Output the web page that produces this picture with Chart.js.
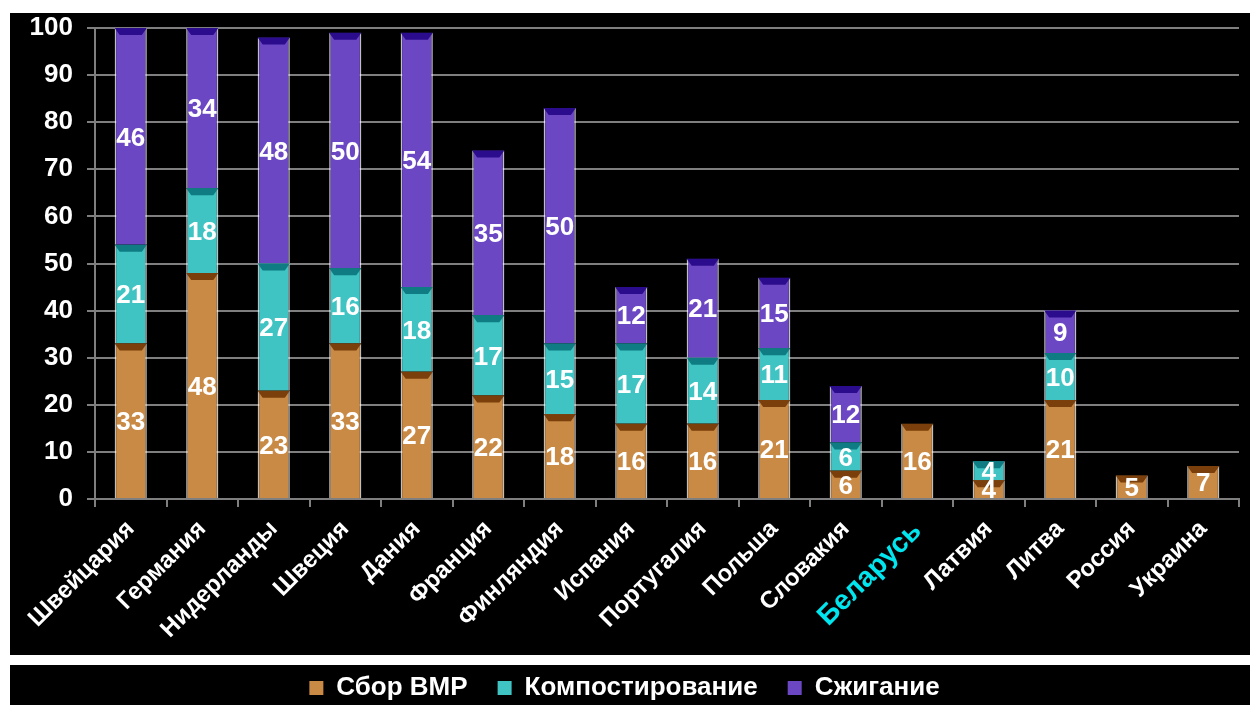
<!DOCTYPE html>
<html lang="ru">
  <head>
    <meta charset="UTF-8" />
    <title>Переработка ТКО</title>
    <style>
      body { margin: 0; background: #fff; }
      #wrap { position: absolute; left: 10px; top: 13px; width: 1240px; height: 692px; }
    </style>
  </head>
  <body>
    <div id="wrap">
      <canvas id="chart" width="1240" height="692"></canvas>
    </div>

    <script src="https://cdn.jsdelivr.net/npm/chart.js"></script>
    <script>
      // данные
      var countries = ["Швейцария", "Германия", "Нидерланды", "Швеция", "Дания", "Франция", "Финляндия",
        "Испания", "Португалия", "Польша", "Словакия", "Беларусь", "Латвия", "Литва", "Россия", "Украина"];
      var sbor = [33, 48, 23, 33, 27, 22, 18, 16, 16, 21, 6, 16, 4, 21, 5, 7];
      var kompost = [21, 18, 27, 16, 18, 17, 15, 17, 14, 11, 6, null, 4, 10, null, null];
      var szhig = [46, 34, 48, 50, 54, 35, 50, 12, 21, 15, 12, null, null, 9, null, null];
      var seriesNames = ["Сбор ВМР", "Компостирование", "Сжигание"];
      var yTicks = [0, 10, 20, 30, 40, 50, 60, 70, 80, 90, 100];

      var fills = ["#c98a45", "#3fc3c3", "#6b47c4"];
      var bevels = ["#7a3f0a", "#0f7c84", "#2b0c8c"];
      var highlight = "Беларусь";
      var FONT = "'Liberation Sans', Arial, sans-serif";

      var background = {
        id: "background",
        beforeDraw(chart) {
          var ctx = chart.ctx;
          ctx.save();
          ctx.fillStyle = "#000";
          ctx.fillRect(0, 0, chart.width, chart.height);
          ctx.fillStyle = "#fff";
          ctx.fillRect(0, 642, chart.width, 10);
          ctx.restore();
        }
      };

      var segLabels = {
        id: "segLabels",
        afterDatasetsDraw(chart) {
          var ctx = chart.ctx;
          ctx.save();
          chart.data.datasets.forEach(function (ds, i) {
            chart.getDatasetMeta(i).data.forEach(function (bar, j) {
              if (ds.data[j] == null) return;
              var half = bar.width / 2;
              ctx.fillStyle = bevels[i];
              ctx.beginPath();
              ctx.moveTo(bar.x - half, bar.y);
              ctx.lineTo(bar.x + half, bar.y);
              ctx.lineTo(bar.x + half - 5, bar.y + 7);
              ctx.lineTo(bar.x - half + 5, bar.y + 7);
              ctx.closePath();
              ctx.fill();
            });
          });
          ctx.fillStyle = "#fff";
          ctx.font = "bold 26px " + FONT;
          ctx.textAlign = "center";
          ctx.textBaseline = "middle";
          chart.data.datasets.forEach(function (ds, i) {
            chart.getDatasetMeta(i).data.forEach(function (bar, j) {
              if (ds.data[j] == null) return;
              ctx.fillText(String(ds.data[j]), bar.x, (bar.y + bar.base) / 2 + 2);
            });
          });
          ctx.restore();
        }
      };

      function makeSet(idx, values) {
        return {
          label: seriesNames[idx],
          data: values,
          backgroundColor: fills[idx],
          borderColor: "rgba(255,255,255,0.75)",
          borderWidth: { left: 1.5, right: 1.5, top: 0, bottom: 0 },
          borderSkipped: false,
          barPercentage: 0.45,
          categoryPercentage: 1.0
        };
      }

      var chart = new Chart(document.getElementById("chart").getContext("2d"), {
        type: "bar",
        data: {
          labels: countries,
          datasets: [makeSet(0, sbor), makeSet(1, kompost), makeSet(2, szhig)]
        },
        options: {
          responsive: false,
          animation: false,
          layout: { padding: { top: 15, right: 11, left: 0, bottom: -6 } },
          plugins: {
            tooltip: { enabled: false },
            legend: {
              position: "bottom",
              labels: {
                color: "#fff",
                font: { family: FONT, size: 26, weight: "bold" },
                boxWidth: 14,
                boxHeight: 14,
                padding: 30,
                generateLabels: function (c) {
                  return Chart.defaults.plugins.legend.labels.generateLabels(c).map(function (it) {
                    it.lineWidth = 0;
                    it.strokeStyle = "transparent";
                    return it;
                  });
                }
              }
            }
          },
          scales: {
            x: {
              stacked: true,
              grid: { drawOnChartArea: false, color: "#7f7f7f", lineWidth: 2, tickLength: 8 },
              border: { color: "#7f7f7f", width: 2 },
              ticks: {
                autoSkip: false,
                maxRotation: 45,
                minRotation: 45,
                padding: 8,
                color: function (c) { return countries[c.index] === highlight ? "#00e5ee" : "#fff"; },
                font: function (c) {
                  var big = countries[c.index] === highlight;
                  return { family: FONT, size: big ? 28 : 24, weight: "bold" };
                }
              },
              afterFit: function (scale) { scale.height = 146; }
            },
            y: {
              stacked: true,
              min: 0,
              max: 100,
              afterBuildTicks: function (scale) {
                scale.ticks = yTicks.map(function (v) { return { value: v }; });
              },
              grid: { color: "#7f7f7f", lineWidth: 2, tickLength: 8 },
              border: { color: "#7f7f7f", width: 2 },
              ticks: {
                color: "#fff",
                padding: 14,
                font: { family: FONT, size: 26, weight: "bold" }
              },
              afterFit: function (scale) {
                scale.width = 85;
                scale.paddingTop = 0;
                scale.paddingBottom = 0;
              }
            }
          }
        },
        plugins: [background, segLabels]
      });
    </script>
  </body>
</html>
